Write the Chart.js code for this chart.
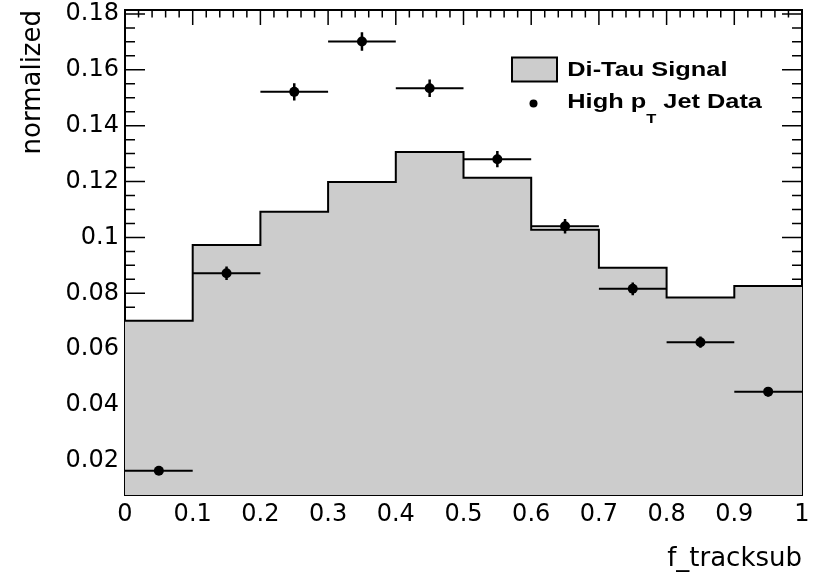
<!DOCTYPE html>
<html><head><meta charset="utf-8">
<script src="https://cdn.jsdelivr.net/npm/chart.js@4.4.0/dist/chart.umd.min.js"></script>
<style>html,body{margin:0;padding:0;background:#fff;}canvas{display:block;}</style>
</head><body>
<canvas id="c" width="821" height="576"></canvas>
<script>
// ---- data ----
const binEdges = [0, 0.1, 0.2, 0.3, 0.4, 0.5, 0.6, 0.7, 0.8, 0.9, 1.0];
const signalValues = [0.0702, 0.0973, 0.1092, 0.1198, 0.1306, 0.1214, 0.1027, 0.0891, 0.0785, 0.0826];
const dataValues = [0.0165, 0.0872, 0.1521, 0.1701, 0.1534, 0.1280, 0.1040, 0.0816, 0.0625, 0.0448];
const dataErrors = [0.0010, 0.0024, 0.0031, 0.0033, 0.0031, 0.0029, 0.0026, 0.0023, 0.0020, 0.0017];
const xTickValues = [0, 0.1, 0.2, 0.3, 0.4, 0.5, 0.6, 0.7, 0.8, 0.9, 1];
const xTickLabels = ['0', '0.1', '0.2', '0.3', '0.4', '0.5', '0.6', '0.7', '0.8', '0.9', '1'];
const yTickValues = [0.02, 0.04, 0.06, 0.08, 0.10, 0.12, 0.14, 0.16, 0.18];
const yTickLabels = ['0.02', '0.04', '0.06', '0.08', '0.1', '0.12', '0.14', '0.16', '0.18'];
const xTitle = 'f_tracksub';
const yTitle = 'normalized';
const signalName = 'Di-Tau Signal';
const dataNameParts = ['High p', 'T', ' Jet Data'];
const yMin = 0.0078, yMax = 0.1814;

// ---- derived ----
const histPoints = signalValues.map((v, i) => ({x: binEdges[i], y: v}));
histPoints.push({x: binEdges[binEdges.length - 1], y: signalValues[signalValues.length - 1]});
const binCenters = signalValues.map((_, i) => (binEdges[i] + binEdges[i + 1]) / 2);
const dataPoints = dataValues.map((v, i) => ({x: binCenters[i], y: v}));

const FONT = '"DejaVu Sans", "Liberation Sans", Arial, sans-serif';
const LFONT = '"Liberation Sans", Arial, Helvetica, sans-serif';

const rootAxes = {
  id: 'rootAxes',
  beforeDatasetsDraw(chart) {
    const {ctx, chartArea: a, scales: {x, y}} = chart;
    ctx.save();
    ctx.strokeStyle = '#000';
    ctx.lineWidth = 1.5;
    ctx.beginPath();
    // y axis: major every 0.02, minor every 0.005
    for (let k = 0; k <= 40; k++) {
      const v = k * 0.005;
      if (v < y.min || v > y.max) continue;
      const len = (k % 4 === 0) ? 20 : 10;
      const py = y.getPixelForValue(v);
      ctx.moveTo(a.left, py); ctx.lineTo(a.left + len, py);
      ctx.moveTo(a.right, py); ctx.lineTo(a.right - len, py);
    }
    // x axis: major every 0.1, minor every 0.02
    for (let k = 0; k <= 50; k++) {
      const v = k * 0.02;
      const len = (k % 5 === 0) ? 15 : 7.5;
      const px = x.getPixelForValue(v);
      ctx.moveTo(px, a.top); ctx.lineTo(px, a.top + len);
      ctx.moveTo(px, a.bottom); ctx.lineTo(px, a.bottom - len);
    }
    ctx.stroke();
    ctx.lineWidth = 2;
    ctx.strokeRect(a.left, a.top, a.right - a.left, a.bottom - a.top);
    ctx.restore();
  }
};

const errorBars = {
  id: 'errorBars',
  afterDatasetsDraw(chart) {
    const {ctx, scales: {x, y}} = chart;
    ctx.save();
    ctx.strokeStyle = '#000';
    ctx.beginPath();
    ctx.lineWidth = 2;
    dataValues.forEach((v, i) => {
      const py = y.getPixelForValue(v);
      ctx.moveTo(x.getPixelForValue(binEdges[i]), py);
      ctx.lineTo(x.getPixelForValue(binEdges[i + 1]), py);
    });
    ctx.stroke();
    ctx.beginPath();
    ctx.lineWidth = 2.5;
    dataValues.forEach((v, i) => {
      const px = x.getPixelForValue(binCenters[i]);
      ctx.moveTo(px, y.getPixelForValue(v - dataErrors[i]));
      ctx.lineTo(px, y.getPixelForValue(v + dataErrors[i]));
    });
    ctx.stroke();
    ctx.restore();
  }
};

const rootLegend = {
  id: 'rootLegend',
  afterDraw(chart) {
    const ctx = chart.ctx;
    ctx.save();
    ctx.fillStyle = '#cccccc';
    ctx.fillRect(512, 57.5, 45, 24);
    ctx.strokeStyle = '#000';
    ctx.lineWidth = 2;
    ctx.strokeRect(512, 57.5, 45, 24);
    ctx.fillStyle = '#000';
    ctx.beginPath();
    ctx.arc(533.5, 103.5, 4, 0, Math.PI * 2);
    ctx.fill();
    ctx.textBaseline = 'alphabetic';
    ctx.textAlign = 'left';
    const sx = 1.268;
    const big = 'bold 20px ' + LFONT, small = 'bold 13px ' + LFONT;
    ctx.save();
    ctx.translate(567.3, 76.3);
    ctx.scale(sx, 1);
    ctx.font = big;
    ctx.fillText(signalName, 0, 0);
    ctx.restore();
    ctx.save();
    ctx.translate(567.3, 108.3);
    ctx.scale(sx, 1);
    ctx.font = big;
    ctx.fillText(dataNameParts[0], 0, 0);
    let w = ctx.measureText(dataNameParts[0]).width;
    ctx.font = small;
    ctx.fillText(dataNameParts[1], w, 15);
    w += ctx.measureText(dataNameParts[1]).width;
    ctx.font = big;
    ctx.fillText(dataNameParts[2], w, 0);
    ctx.restore();
    ctx.restore();
  }
};

new Chart(document.getElementById('c'), {
  type: 'scatter',
  data: {
    datasets: [
      {
        type: 'line',
        label: signalName,
        data: histPoints,
        stepped: 'before',
        fill: 'start',
        backgroundColor: '#cccccc',
        borderColor: '#000',
        borderWidth: 2,
        pointRadius: 0,
        order: 2
      },
      {
        type: 'scatter',
        label: dataNameParts.join(''),
        data: dataPoints,
        pointRadius: 5,
        pointBackgroundColor: '#000',
        pointBorderWidth: 0,
        order: 1
      }
    ]
  },
  options: {
    responsive: false,
    devicePixelRatio: 1,
    animation: false,
    events: [],
    layout: {padding: {left: 0, right: 19, top: 10, bottom: 0}},
    plugins: {legend: {display: false}, tooltip: {enabled: false}, title: {display: false}},
    scales: {
      x: {
        type: 'linear', min: 0, max: 1,
        afterBuildTicks: s => { s.ticks = xTickValues.map(v => ({value: v})); },
        afterFit: s => { s.height = 81; },
        grid: {display: false, drawTicks: false},
        border: {display: false},
        ticks: {
          autoSkip: false, maxRotation: 0, padding: 5, color: '#000',
          font: {family: FONT, size: 24, lineHeight: 1.2},
          callback: (v, i) => xTickLabels[i]
        },
        title: {display: true, text: xTitle, align: 'end', color: '#000',
          font: {family: FONT, size: 26, lineHeight: 1.2}, padding: {top: 0, bottom: 1}}
      },
      y: {
        type: 'linear', min: yMin, max: yMax,
        afterBuildTicks: s => { s.ticks = yTickValues.map(v => ({value: v})); },
        afterFit: s => { s.width = 125; },
        grid: {display: false, drawTicks: false},
        border: {display: false},
        ticks: {
          padding: 6, color: '#000',
          font: {family: FONT, size: 24, lineHeight: 0.3},
          callback: (v, i) => yTickLabels[i]
        },
        title: {display: true, text: yTitle, align: 'end', color: '#000',
          font: {family: FONT, size: 26, lineHeight: 1.2}, padding: {top: 18, bottom: 0}}
      }
    }
  },
  plugins: [rootAxes, errorBars, rootLegend]
});
</script>
</body></html>
